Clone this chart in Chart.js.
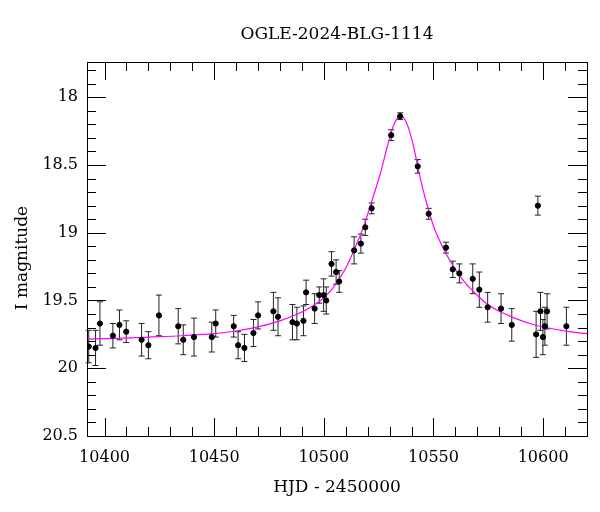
<!DOCTYPE html>
<html>
<head>
<meta charset="utf-8">
<script src="https://cdn.jsdelivr.net/npm/chart.js@4/dist/chart.umd.min.js"></script>
<style>
  html, body { margin: 0; padding: 0; background: #fff; }
  #wrap { width: 600px; height: 512px; }
</style>
</head>
<body>
<div id="wrap"><canvas id="lc"></canvas></div>
<script>
// photometry
const hjd = [10392.8, 10395.9, 10397.9, 10403.8, 10406.8, 10409.9, 10416.9, 10420.0, 10424.8, 10433.6,
             10435.9, 10440.8, 10448.9, 10450.7, 10458.9, 10460.9, 10463.8, 10467.9, 10470.0, 10477.0,
             10479.1, 10485.7, 10487.7, 10490.7, 10491.9, 10495.8, 10497.9, 10499.9, 10501.1, 10503.5,
             10505.6, 10507.0, 10513.8, 10516.9, 10518.9, 10521.8, 10530.7, 10534.8, 10542.8, 10547.8,
             10555.7, 10558.8, 10561.8, 10567.9, 10570.9, 10574.7, 10580.8, 10585.7, 10596.8, 10597.6,
             10598.8, 10599.9, 10600.8, 10601.8, 10610.6];
const mag = [19.84, 19.85, 19.67, 19.76, 19.68, 19.73, 19.79, 19.83, 19.61, 19.69,
             19.79, 19.77, 19.77, 19.67, 19.69, 19.83, 19.85, 19.74, 19.61, 19.58,
             19.62, 19.66, 19.67, 19.65, 19.44, 19.56, 19.46, 19.46, 19.50, 19.23,
             19.29, 19.36, 19.13, 19.08, 18.96, 18.82, 18.28, 18.14, 18.51, 18.86,
             19.11, 19.27, 19.30, 19.34, 19.42, 19.55, 19.56, 19.68, 19.75, 18.80,
             19.58, 19.77, 19.69, 19.58, 19.69];
const magErr = [0.12, 0.13, 0.16, 0.09, 0.11, 0.08, 0.12, 0.10, 0.15, 0.13,
                0.11, 0.14, 0.11, 0.10, 0.08, 0.10, 0.10, 0.10, 0.10, 0.14,
                0.14, 0.13, 0.12, 0.11, 0.09, 0.11, 0.06, 0.12, 0.10, 0.09,
                0.09, 0.08, 0.10, 0.07, 0.06, 0.04, 0.04, 0.025, 0.05, 0.04,
                0.04, 0.06, 0.07, 0.11, 0.13, 0.11, 0.11, 0.12, 0.17, 0.07,
                0.14, 0.13, 0.14, 0.13, 0.14];

// model curve
const modelHjd = [10392, 10405, 10420, 10435, 10450, 10460, 10470, 10480, 10488, 10495,
                  10500, 10505, 10510, 10514, 10518, 10522, 10526, 10529, 10532, 10535,
                  10538, 10541, 10544, 10547, 10550, 10554, 10558, 10563, 10568, 10574,
                  10580, 10587, 10595, 10603, 10612, 10620];
const modelMag = [19.785, 19.78, 19.77, 19.76, 19.745, 19.725, 19.695, 19.65, 19.60, 19.54,
                  19.48, 19.39, 19.26, 19.12, 18.96, 18.76, 18.55, 18.36, 18.20, 18.135,
                  18.20, 18.37, 18.60, 18.79, 18.95, 19.10, 19.22, 19.34, 19.43, 19.52,
                  19.58, 19.63, 19.675, 19.705, 19.73, 19.745];

const xTicks = [10400, 10450, 10500, 10550, 10600];
const yTicks = [18, 18.5, 19, 19.5, 20, 20.5];
const yTickLabels = ['18', '18.5', '19', '19.5', '20', '20.5'];

const titleText = 'OGLE-2024-BLG-1114';
const yTitle = 'I magnitude';
const FONT = '"DejaVu Serif", "Liberation Serif", serif';

Chart.defaults.font.family = FONT;
Chart.defaults.color = '#000';

// error bars under the points
const errorBars = {
    id: 'errorBars',
    beforeDatasetsDraw(chart) {
        const { ctx, scales: { x, y } } = chart;
        ctx.save();
        ctx.strokeStyle = '#222';
        ctx.lineWidth = 1;
        for (let i = 0; i < hjd.length; i++) {
            const px = x.getPixelForValue(hjd[i]);
            const y1 = y.getPixelForValue(mag[i] - magErr[i]);
            const y2 = y.getPixelForValue(mag[i] + magErr[i]);
            ctx.beginPath();
            ctx.moveTo(px, y1); ctx.lineTo(px, y2);
            ctx.moveTo(px - 3, y1); ctx.lineTo(px + 3, y1);
            ctx.moveTo(px - 3, y2); ctx.lineTo(px + 3, y2);
            ctx.stroke();
        }
        ctx.restore();
    }
};

// box with inward ticks on all four sides, plus the title texts
const frame = {
    id: 'frame',
    afterDraw(chart) {
        const { ctx, chartArea: a, scales: { x, y } } = chart;
        ctx.save();
        ctx.strokeStyle = '#000';
        ctx.lineWidth = 1;
        ctx.strokeRect(a.left + 0.5, a.top + 0.5, a.right - a.left, a.bottom - a.top);
        ctx.beginPath();
        for (let v = 10400; v <= 10620; v += 10) {
            const px = Math.round(x.getPixelForValue(v)) + 0.5;
            const len = (v % 50 === 0) ? 18 : 9;
            ctx.moveTo(px, a.bottom); ctx.lineTo(px, a.bottom - len);
            ctx.moveTo(px, a.top); ctx.lineTo(px, a.top + len);
        }
        for (let k = 178; k <= 205; k++) {
            const v = k / 10;
            const py = Math.round(y.getPixelForValue(v)) + 0.5;
            const len = (k % 5 === 0) ? 19 : 9;
            ctx.moveTo(a.left, py); ctx.lineTo(a.left + len, py);
            ctx.moveTo(a.right, py); ctx.lineTo(a.right - len, py);
        }
        ctx.stroke();

        ctx.fillStyle = '#000';
        ctx.font = '17px ' + FONT;
        ctx.textAlign = 'center';
        ctx.textBaseline = 'middle';
        ctx.fillText(titleText, (a.left + a.right) / 2, 35);

        ctx.translate(23, 258);
        ctx.rotate(-Math.PI / 2);
        ctx.fillText(yTitle, 0, 0);
        ctx.restore();
    }
};

new Chart(document.getElementById('lc'), {
    type: 'scatter',
    data: {
        datasets: [
            {
                label: 'OGLE',
                data: hjd.map((t, i) => ({ x: t, y: mag[i] })),
                backgroundColor: '#000',
                borderColor: '#000',
                pointRadius: 2.6,
                pointHoverRadius: 2.6
            },
            {
                label: 'model',
                type: 'line',
                data: modelHjd.map((t, i) => ({ x: t, y: modelMag[i] })),
                borderColor: '#ff00ff',
                borderWidth: 1.2,
                pointRadius: 0,
                fill: false,
                cubicInterpolationMode: 'monotone'
            }
        ]
    },
    options: {
        responsive: true,
        maintainAspectRatio: false,
        animation: false,
        layout: { padding: { left: 0, right: 13, top: 62, bottom: 0 } },
        plugins: {
            legend: { display: false },
            tooltip: { enabled: false },
            title: { display: false }
        },
        scales: {
            x: {
                type: 'linear',
                min: 10392,
                max: 10620,
                afterFit: s => { s.height = 76; },
                afterBuildTicks: s => { s.ticks = xTicks.map(v => ({ value: v })); },
                grid: { display: false, drawTicks: false },
                border: { display: false },
                ticks: { font: { size: 16 }, padding: 12, maxRotation: 0, callback: v => String(v) },
                title: { display: true, text: 'HJD - 2450000', font: { size: 17 }, padding: { top: 0, bottom: 14 } }
            },
            y: {
                type: 'linear',
                reverse: true,
                min: 17.74,
                max: 20.5,
                afterFit: s => { s.width = 87; },
                afterBuildTicks: s => { s.ticks = yTicks.map(v => ({ value: v })); },
                grid: { display: false, drawTicks: false },
                border: { display: false },
                ticks: { font: { size: 16 }, padding: 9, callback: v => yTickLabels[yTicks.indexOf(v)] }
            }
        }
    },
    plugins: [errorBars, frame]
});
</script>
</body>
</html>
